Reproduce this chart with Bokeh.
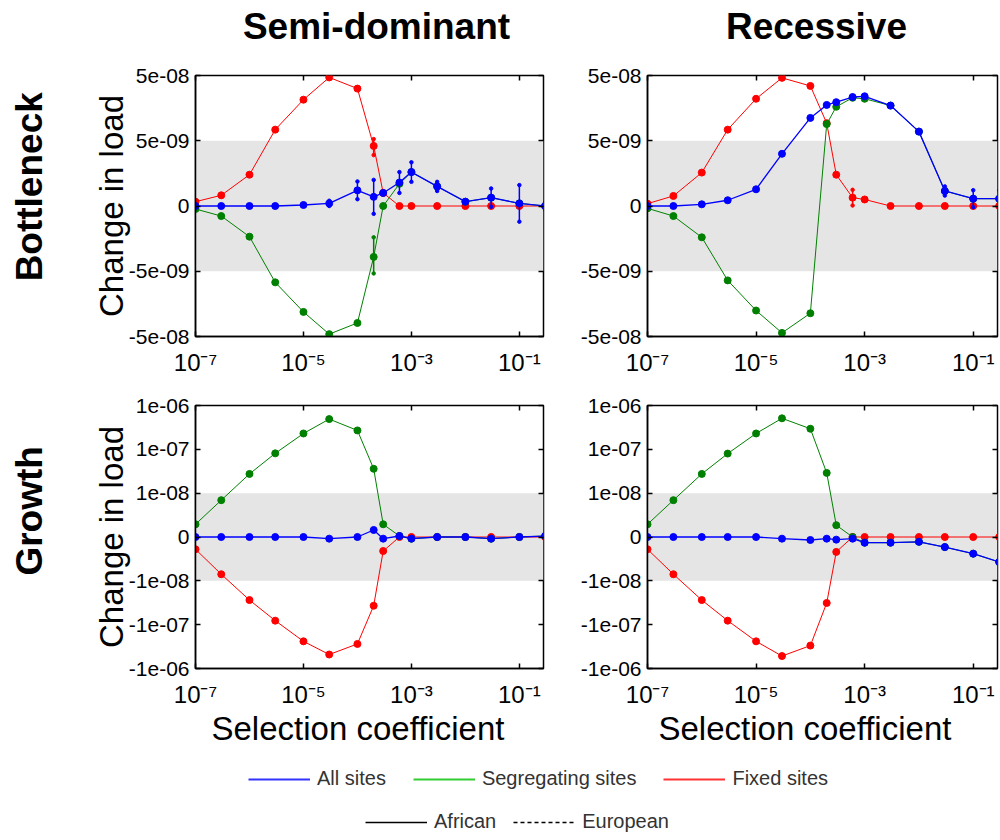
import numpy as np
from bokeh.plotting import figure
from bokeh.layouts import column, row
from bokeh.models import FixedTicker, BoxAnnotation, Legend, LegendItem, Title, LinearAxis, LogAxis
from bokeh.core.properties import value
from bokeh.embed import file_html
from bokeh.resources import INLINE

# ---------------- data ----------------
sel_coef = [1e-7, 3e-7, 1e-6, 3e-6, 1e-5, 3e-5, 1e-4, 2e-4, 3e-4, 6e-4,
            1e-3, 3e-3, 1e-2, 3e-2, 1e-1, 3e-1]

# Bottleneck, semi-dominant
bn_semi_all = [0, 0, 0, 0, 7.7e-11, 2e-10, 1.2e-9, 7e-10, 1.0e-9, 1.8e-9,
               2.6e-9, 1.5e-9, 3.3e-10, 6.4e-10, 2e-10, 0]
bn_semi_seg = [-2.3e-10, -7.7e-10, -2.35e-9, -7.4e-9, -2.1e-8, -4.6e-8, -3.1e-8, -3.9e-9, 0, 1.7e-9,
               2.6e-9, 1.5e-9, 3.3e-10, 6.4e-10, 2e-10, 0]
bn_semi_fix = [3.3e-10, 8.2e-10, 2.4e-9, 7.4e-9, 2.13e-8, 4.67e-8, 3.15e-8, 4.6e-9, 1.0e-9, 0,
               0, 0, 0, 0, 0, 0]
bn_semi_all_err = [0, 0, 0, 0, 0, 2e-10, 6.8e-10, 1.3e-9, 0, 8e-10,
                   7.5e-10, 3.5e-10, 0, 7e-10, 1.4e-9, 3e-10]
bn_semi_seg_err = [0, 0, 0, 0, 0, 0, 0, 1.5e-9, 0, 0, 0, 0, 0, 0, 0, 0]
bn_semi_fix_err = [0, 0, 0, 0, 0, 0, 0, 7e-10, 0, 0, 0, 0, 0, 0, 0, 0]

# Bottleneck, recessive
bn_rec_all = [0, 0, 1.3e-10, 4.4e-10, 1.28e-9, 4.0e-9, 1.12e-8, 1.77e-8, 1.95e-8, 2.34e-8,
              2.4e-8, 1.73e-8, 6.9e-9, 1.15e-9, 5.6e-10, 5.6e-10]
bn_rec_seg = [-1.8e-10, -7.7e-10, -2.4e-9, -6.9e-9, -2.0e-8, -4.4e-8, -2.2e-8, 9.0e-9, 1.66e-8, 2.28e-8,
              2.2e-8, 1.73e-8, 6.9e-9, 1.15e-9, 5.6e-10, 5.6e-10]
bn_rec_fix = [1.8e-10, 7.7e-10, 2.56e-9, 7.4e-9, 2.2e-8, 4.6e-8, 3.46e-8, 9.3e-9, 2.4e-9, 6.4e-10,
              5e-10, 0, 0, 0, 0, 0]
bn_rec_all_err = [0, 0, 0, 0, 0, 0, 0, 0, 0, 0, 0, 0, 0, 3.5e-10, 6.5e-10, 6.5e-10]
bn_rec_seg_err = [0] * 16
bn_rec_fix_err = [0, 0, 0, 0, 0, 0, 0, 0, 0, 6e-10, 0, 0, 0, 0, 0, 0]

# Growth, semi-dominant
gr_semi_all = [0, 0, 0, 0, 0, -3.8e-10, 0, 1.6e-9, -3.8e-10, 2.3e-10,
               -3.8e-10, 0, 0, -3.8e-10, 0, 2.3e-10]
gr_semi_seg = [2.9e-9, 8.4e-9, 2.75e-8, 8.1e-8, 2.3e-7, 4.9e-7, 2.7e-7, 3.6e-8, 2.9e-9, 2.3e-10,
               -3.8e-10, 0, 0, -3.8e-10, 0, 2.3e-10]
gr_semi_fix = [-2.8e-9, -8.5e-9, -2.75e-8, -8.1e-8, -2.4e-7, -4.8e-7, -2.75e-7, -3.7e-8, -3.2e-9, 0,
               0, 0, 0, 0, 0, 0]

# Growth, recessive
gr_rec_all = [0, 0, 0, 0, 0, -3.8e-10, -6.8e-10, -3.8e-10, -6e-10, -3.8e-10,
              -1.3e-9, -1.3e-9, -1.1e-9, -2.3e-9, -3.8e-9, -5.7e-9]
gr_rec_seg = [2.9e-9, 8.4e-9, 2.75e-8, 8.0e-8, 2.3e-7, 5.1e-7, 2.95e-7, 2.9e-8, 2.7e-9, 0,
              -1.3e-9, -1.3e-9, -1.1e-9, -2.3e-9, -3.8e-9, -5.7e-9]
gr_rec_fix = [-2.8e-9, -8.5e-9, -2.75e-8, -8.1e-8, -2.4e-7, -5.2e-7, -3.0e-7, -3.2e-8, -3.4e-9, 0,
              0, 0, 0, 0, 0, 0]

x_ticks = [1e-7, 1e-5, 1e-3, 1e-1]
x_tick_labels = ["10\u207b\u2077", "10\u207b\u2075", "10\u207b\u00b3", "10\u207b\u00b9"]
bn_y_ticks = [-5e-8, -5e-9, 0, 5e-9, 5e-8]
bn_y_tick_labels = ["-5e-08", "-5e-09", "0", "5e-09", "5e-08"]
gr_y_ticks = [-1e-6, -1e-7, -1e-8, 0, 1e-8, 1e-7, 1e-6]
gr_y_tick_labels = ["-1e-06", "-1e-07", "-1e-08", "0", "1e-08", "1e-07", "1e-06"]
bn_linear_limit = 5e-9
gr_linear_limit = 1e-8

col_titles = ["Semi-dominant", "Recessive"]
row_titles = ["Bottleneck", "Growth"]
legend_series = ["All sites", "Segregating sites", "Fixed sites"]
legend_pops = ["African", "European"]

FONT = "Liberation Sans"
BLUE, GREEN, RED = "#0000FF", "#008000", "#FF0000"


def symlog(vals, lim):
    v = np.asarray(vals, dtype=float)
    a = np.abs(v)
    big = np.sign(v) * (1.0 + np.log10(np.maximum(a, lim) / lim))
    return np.round(np.where(a <= lim, v / lim, big), 9)


def make_panel(width, height, bl, br, bt, bb, lim, yt, ytl, series,
               ylabel=False, xlabel_offset=None):
    yts = [float(t) for t in symlog(yt, lim)]
    ymax = max(yts)
    p = figure(width=width, height=height, x_axis_type="log",
               x_range=(1e-7, 0.28), y_range=(-ymax, ymax),
               output_backend="svg", toolbar_location=None,
               min_border_left=bl, min_border_right=br,
               min_border_top=bt, min_border_bottom=bb)
    p.grid.visible = False
    p.outline_line_color = "black"
    p.outline_line_width = 1.5
    p.background_fill_color = "white"

    band = symlog([-lim, lim], lim)
    p.add_layout(BoxAnnotation(bottom=float(band[0]), top=float(band[1]),
                               fill_color="#E5E5E5", fill_alpha=1.0,
                               line_color=None, level="underlay"))

    for vals, errs, color, lw in series:
        y = symlog(vals, lim)
        p.line(sel_coef, y, line_color=color, line_width=lw)
        p.scatter(sel_coef, y, size=7, fill_color=color, line_color=color)
        if errs is not None:
            v = np.asarray(vals, float)
            e = np.asarray(errs, float)
            m = e > 0
            if m.any():
                xs = np.asarray(sel_coef)[m]
                lo = symlog(v[m] - e[m], lim)
                hi = symlog(v[m] + e[m], lim)
                p.segment(x0=xs, y0=lo, x1=xs, y1=hi, line_color=color, line_width=1.5)
                p.scatter(np.concatenate([xs, xs]), np.concatenate([lo, hi]),
                          size=3.5, fill_color=color, line_color=color)

    xa = p.xaxis[0]
    xa.ticker = FixedTicker(ticks=x_ticks)
    xa.major_label_overrides = {t: l for t, l in zip(x_ticks, x_tick_labels)}
    ya = p.yaxis[0]
    ya.ticker = FixedTicker(ticks=yts)
    ya.major_label_overrides = {t: l for t, l in zip(yts, ytl)}
    for ax in (xa, ya):
        ax.major_label_text_font = FONT
        ax.major_label_text_color = "black"
        ax.major_tick_in = 5
        ax.major_tick_out = 0
        ax.minor_tick_line_color = None
        ax.axis_line_width = 1.5
        ax.major_tick_line_width = 1.5
        ax.axis_label_text_font = FONT
        ax.axis_label_text_font_style = "normal"
        ax.axis_label_text_font_size = "33px"
        ax.axis_label_text_color = "black"
    xa.major_label_text_font_size = "24px"
    ya.major_label_text_font_size = "21px"
    xa.major_label_standoff = 12
    ya.major_label_standoff = 6
    if ylabel:
        ya.axis_label = "Change in load"
        ya.axis_label_standoff = -4
    if xlabel_offset is not None:
        p.add_layout(Title(text="Selection coefficient", align="left", offset=xlabel_offset,
                           text_font=FONT, text_font_size="33px", text_font_style="normal",
                           text_color="black", standoff=-6), "below")

    # inward tick marks on the opposite (top / right) edges of the box
    ra = LinearAxis(ticker=FixedTicker(ticks=yts), major_label_text_font_size="1px",
                    major_label_text_color=None, major_label_standoff=0,
                    major_tick_in=5, major_tick_out=0, minor_tick_line_color=None,
                    axis_line_color=None, major_tick_line_width=1.5)
    p.add_layout(ra, "right")
    ta = LogAxis(ticker=FixedTicker(ticks=x_ticks), major_label_text_font_size="1px",
                 major_label_text_color=None, major_label_standoff=0,
                 major_tick_in=5, major_tick_out=0, minor_tick_line_color=None,
                 axis_line_color=None, major_tick_line_width=1.5)
    p.add_layout(ta, "above")
    return p


def text_strip(width, height, xs, ys, texts, angle):
    q = figure(width=width, height=height, x_axis_type=None, y_axis_type=None,
               x_range=(0, width), y_range=(0, height), output_backend="svg",
               toolbar_location=None, min_border=0, outline_line_color=None)
    q.grid.visible = False
    q.text(x=xs, y=ys, text=texts, angle=angle,
           text_align="center", text_baseline="middle",
           text_font=value(FONT), text_font_size="37px",
           text_font_style="bold", text_color="black")
    return q


HEAD_H = 55
TOP_H = 333
BOT_H = 362

header = text_strip(1000, HEAD_H, [376, 816], [HEAD_H - 26, HEAD_H - 26], col_titles, 0)
top_lab = text_strip(60, TOP_H, [29], [TOP_H - (197 - HEAD_H)], [row_titles[0]], np.pi / 2)
bot_lab = text_strip(60, BOT_H, [29], [BOT_H - (533 - HEAD_H - TOP_H)], [row_titles[1]], np.pi / 2)

tl = make_panel(500, TOP_H, 135, 17, 20, 52, bn_linear_limit, bn_y_ticks, bn_y_tick_labels,
                [(bn_semi_fix, bn_semi_fix_err, RED, 1.0),
                 (bn_semi_seg, bn_semi_seg_err, GREEN, 1.0),
                 (bn_semi_all, bn_semi_all_err, BLUE, 1.3)],
                ylabel=True)
tr = make_panel(440, TOP_H, 87, 3, 20, 52, bn_linear_limit, bn_y_ticks, bn_y_tick_labels,
                [(bn_rec_fix, bn_rec_fix_err, RED, 1.0),
                 (bn_rec_seg, bn_rec_seg_err, GREEN, 1.0),
                 (bn_rec_all, bn_rec_all_err, BLUE, 1.3)])
bl = make_panel(500, BOT_H, 135, 17, 17, 82, gr_linear_limit, gr_y_ticks, gr_y_tick_labels,
                [(gr_semi_fix, None, RED, 1.0),
                 (gr_semi_seg, None, GREEN, 1.0),
                 (gr_semi_all, None, BLUE, 1.3)],
                ylabel=True, xlabel_offset=16)
br = make_panel(440, BOT_H, 87, 3, 17, 82, gr_linear_limit, gr_y_ticks, gr_y_tick_labels,
                [(gr_rec_fix, None, RED, 1.0),
                 (gr_rec_seg, None, GREEN, 1.0),
                 (gr_rec_all, None, BLUE, 1.3)],
                xlabel_offset=11)

# ---------------- legend strip ----------------
leg = figure(width=1000, height=90, x_axis_type=None, y_axis_type=None,
             x_range=(0, 1), y_range=(0, 1), output_backend="svg",
             toolbar_location=None, min_border=0, outline_line_color=None)
leg.grid.visible = False
r_all = leg.line([0, 0], [-1, -1], line_color="#3333FF", line_width=2)
r_seg = leg.line([0, 0], [-1, -1], line_color="#33CC33", line_width=2)
r_fix = leg.line([0, 0], [-1, -1], line_color="#FF3333", line_width=2)
r_afr = leg.line([0, 0], [-1, -1], line_color="black", line_width=1.5)
r_eur = leg.line([0, 0], [-1, -1], line_color="black", line_width=1.5, line_dash="4 3")

common = dict(orientation="horizontal", padding=0, margin=0, glyph_width=62, glyph_height=20,
              label_height=20, label_standoff=7, label_text_font=FONT,
              label_text_font_size="20px", label_text_color="#333333",
              border_line_color=None, background_fill_alpha=0)
leg1 = Legend(items=[LegendItem(label=legend_series[0], renderers=[r_all]),
                     LegendItem(label=legend_series[1], renderers=[r_seg]),
                     LegendItem(label=legend_series[2], renderers=[r_fix])],
              location=(248, 50), spacing=27, **common)
leg2 = Legend(items=[LegendItem(label=legend_pops[0], renderers=[r_afr]),
                     LegendItem(label=legend_pops[1], renderers=[r_eur])],
              location=(365, 7), spacing=17, **common)
leg.add_layout(leg1)
leg.add_layout(leg2)

layout = column(header, row(top_lab, tl, tr), row(bot_lab, bl, br), leg)
open("out.html", "w").write(file_html(layout, INLINE))
